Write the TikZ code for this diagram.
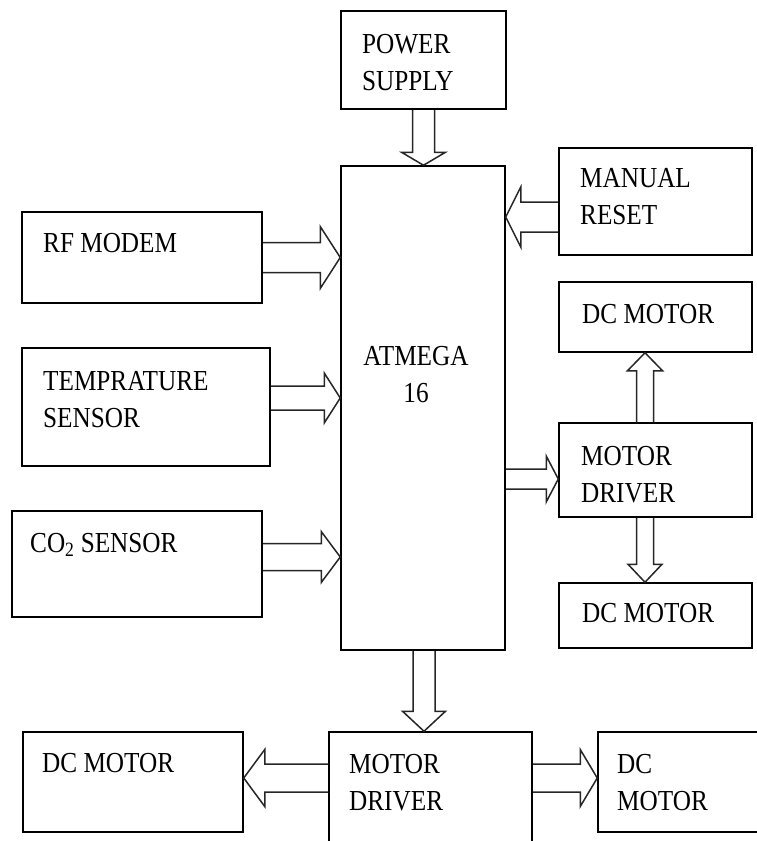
\documentclass[tikz,border=0pt]{standalone}
\usepackage{fontspec}
\setmainfont{Liberation Serif}
\usetikzlibrary{calc}

% hollow block arrow: from, tip, half shaft, half head, head length
\newcommand{\fatarrow}[5]{%
	\coordinate (fa-h) at ($(#2)!#5pt!(#1)$);
	\draw[fat] ($(#1)!#3pt!90:(#2)$)--($(fa-h)!#3pt!90:(#2)$)--($(fa-h)!#4pt!90:(#2)$)--(#2)--($(fa-h)!#4pt!-90:(#2)$)--($(fa-h)!#3pt!-90:(#2)$)--($(#1)!#3pt!-90:(#2)$);
}

\begin{document}
\begin{tikzpicture}[x=1pt,y=-1pt,
	blk/.style={draw,line width=1.5pt,inner sep=0pt},
	txt/.style={anchor=base west,align=left,inner sep=0pt,xscale=0.87,font=\fontsize{29}{37.5}\selectfont},
	fat/.style={draw=black!85,line width=1.5pt,line join=miter}]
	\useasboundingbox (0,0) rectangle (757,841);
	\clip (0,0) rectangle (757,841);

	\node[blk,minimum width=165pt,minimum height=98pt] (power) at (423.5,60) {};
	\node[blk,minimum width=164pt,minimum height=484pt] (atmega) at (423,408) {};
	\node[blk,minimum width=193pt,minimum height=107pt] (reset) at (655.5,201.5) {};
	\node[blk,minimum width=240pt,minimum height=91pt] (rf) at (142,257.5) {};
	\node[blk,minimum width=248pt,minimum height=118pt] (temp) at (146,407) {};
	\node[blk,minimum width=250pt,minimum height=106pt] (co2) at (137,564) {};
	\node[blk,minimum width=193pt,minimum height=70pt] (dctop) at (655.5,317) {};
	\node[blk,minimum width=193pt,minimum height=94pt] (drvR) at (655.5,470) {};
	\node[blk,minimum width=193pt,minimum height=65pt] (dcR) at (655.5,615.5) {};
	\node[blk,minimum width=203pt,minimum height=136pt] (drvB) at (430.5,800) {};
	\node[blk,minimum width=220pt,minimum height=100pt] (dcL) at (133,782) {};
	\node[blk,minimum width=166pt,minimum height=100pt] (dcBR) at (681,782) {};

	% two-line texts sit on the baseline of their last line
	\node[txt] (powertxt) at (362,90.5) {POWER\\SUPPLY};
	\node[txt,anchor=base,align=center] (atmegatxt) at (416,402.5) {ATMEGA\\16};
	\node[txt] (resettxt) at (580,224.5) {MANUAL\\RESET};
	\node[txt] (rftxt) at (43,252) {RF MODEM};
	\node[txt] (temptxt) at (43,427.5) {TEMPRATURE\\SENSOR};
	\node[txt] (co2txt) at (30,552) {CO\textsubscript{2} SENSOR};
	\node[txt] (dctoptxt) at (582,323) {DC MOTOR};
	\node[txt] (drvRtxt) at (581,502.5) {MOTOR\\DRIVER};
	\node[txt] (dcRtxt) at (582,622) {DC MOTOR};
	\node[txt] (drvBtxt) at (349,810.5) {MOTOR\\DRIVER};
	\node[txt] (dcLtxt) at (42,772) {DC MOTOR};
	\node[txt] (dcBRtxt) at (617,810.5) {DC\\MOTOR};

	\fatarrow{power.south}{atmega.north -| power.south}{11}{22}{13}
	\fatarrow{reset.west |- 0,217}{atmega.east |- 0,217}{15}{30}{15}
	\fatarrow{rf.east}{atmega.west |- rf.east}{15}{31}{20}
	\fatarrow{temp.east |- 0,398}{atmega.west |- 0,398}{12}{25}{16}
	\fatarrow{co2.east |- 0,557}{atmega.west |- 0,557}{13.5}{25.5}{19}
	\fatarrow{atmega.east |- 0,479}{drvR.west |- 0,479}{10}{23}{12}
	\fatarrow{drvR.north -| 645,0}{dctop.south -| 645,0}{8.5}{17.5}{18}
	\fatarrow{drvR.south -| 645,0}{dcR.north -| 645,0}{8.5}{17}{18}
	\fatarrow{atmega.south -| 424,0}{drvB.north -| 424,0}{11}{21.5}{20}
	\fatarrow{drvB.west |- 0,778}{dcL.east |- 0,778}{14}{28.5}{21}
	\fatarrow{drvB.east |- 0,778}{dcBR.west |- 0,778}{14}{28.5}{17}
\end{tikzpicture}
\end{document}
